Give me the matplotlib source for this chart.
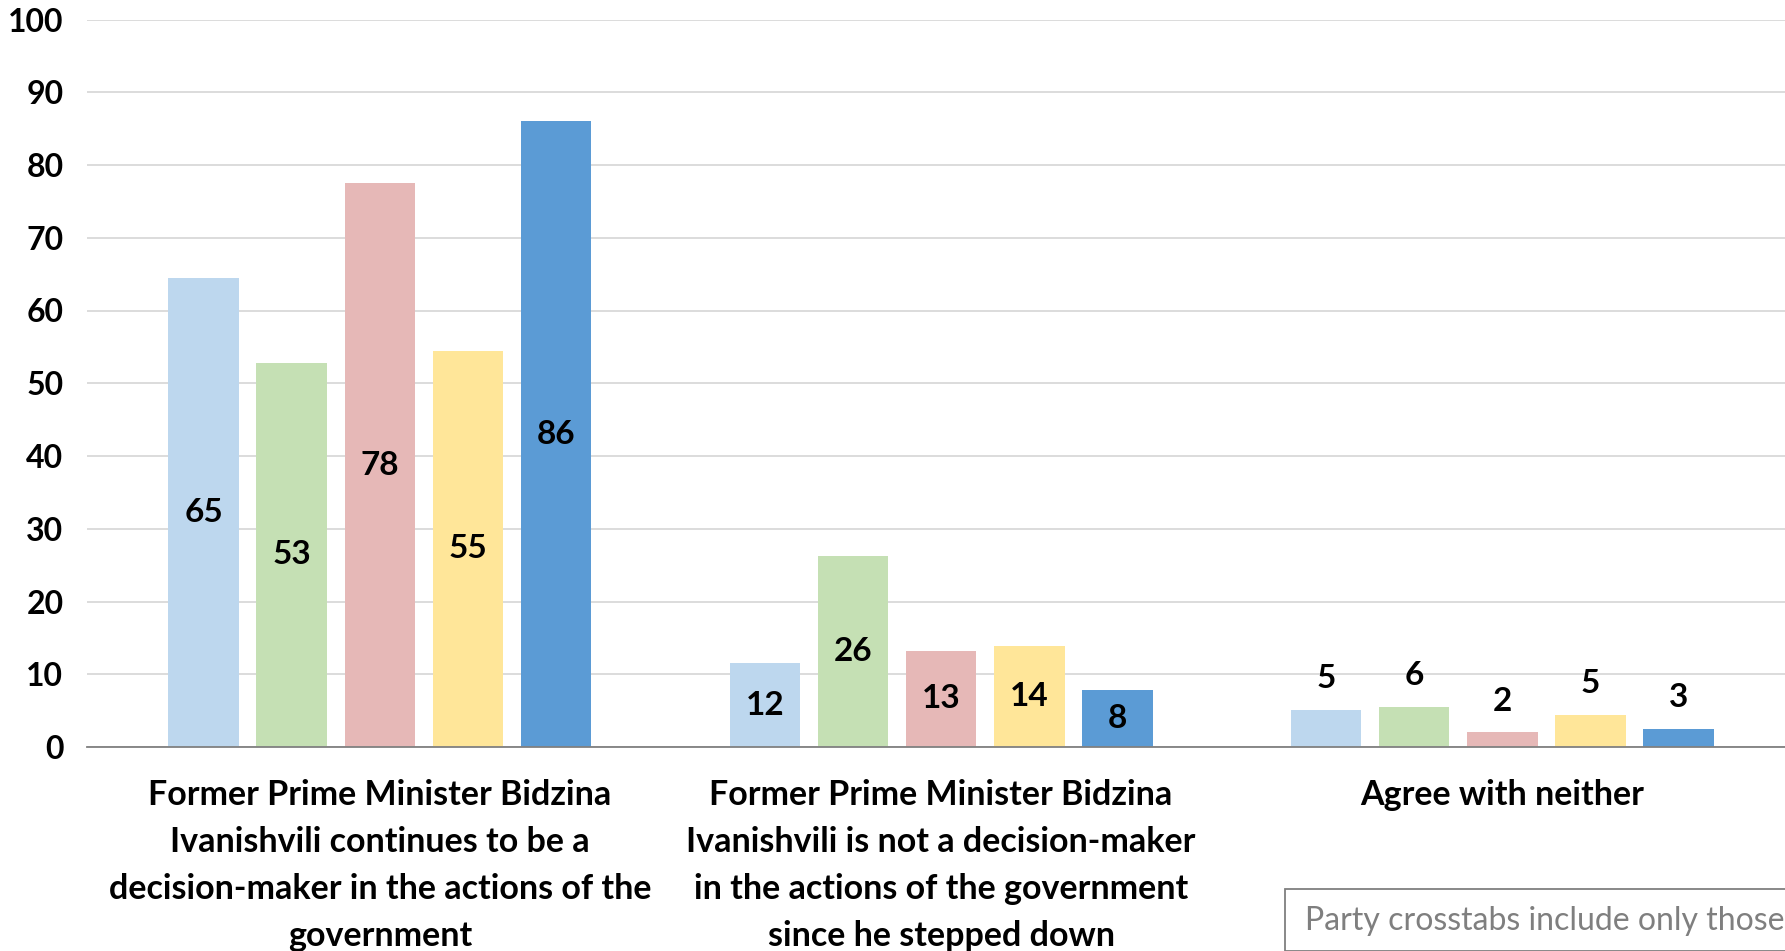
import numpy as np
import matplotlib.pyplot as plt
from matplotlib.patches import Rectangle

plt.rcParams['font.family'] = ['Lato', 'DejaVu Sans']

# categories and series
categories = [
    "Former Prime Minister Bidzina\nIvanishvili continues to be a\ndecision-maker in the actions of the\ngovernment",
    "Former Prime Minister Bidzina\nIvanishvili is not a decision-maker\nin the actions of the government\nsince he stepped down",
    "Agree with neither",
]
colors = ['#BDD7EE', '#C5E0B4', '#E6B8B7', '#FFE699', '#5B9BD5']

# bar heights, one list per series
s1 = [64.5, 11.5, 5.1]
s2 = [52.8, 26.3, 5.5]
s3 = [77.5, 13.2, 2.0]
s4 = [54.5, 13.9, 4.4]
s5 = [86.0, 7.8, 2.5]
series = [s1, s2, s3, s4, s5]

# data labels as printed
lab1 = [65, 12, 5]
lab2 = [53, 26, 6]
lab3 = [78, 13, 2]
lab4 = [55, 14, 5]
lab5 = [86, 8, 3]
labels = [lab1, lab2, lab3, lab4, lab5]

yticks = [0, 10, 20, 30, 40, 50, 60, 70, 80, 90, 100]

W, H = 1785, 951
fig = plt.figure(figsize=(W / 100, H / 100), dpi=100)
ax = fig.add_axes([87 / W, (H - 747) / H, (W - 87) / W, (747 - 19.5) / H])

x = np.arange(len(categories))
pitch = 0.157
bw = 0.126
for i, (vals, labs, c) in enumerate(zip(series, labels, colors)):
    pos = x + (i - 2) * pitch
    ax.bar(pos, vals, width=bw, color=c, zorder=2)
    for j, (p, v, l) in enumerate(zip(pos, vals, labs)):
        if j < 2:
            ax.text(p, v / 2, str(l), ha='center', va='center',
                    fontsize=24, fontweight='bold', color='black', zorder=3)
        else:
            ax.text(p, v + 4.3, str(l), ha='center', va='center',
                    fontsize=24, fontweight='bold', color='black', zorder=3)

ax.set_xlim(-0.522, 2.504)
ax.set_ylim(0, 100)
ax.set_yticks(yticks)
ax.set_yticklabels([str(t) for t in yticks], fontsize=23, fontweight='bold')
ax.tick_params(axis='y', length=0, pad=17)
ax.set_xticks(x)
ax.set_xticklabels(categories, fontsize=24.5, fontweight='bold', linespacing=1.58)
ax.tick_params(axis='x', length=0, pad=23)
ax.grid(axis='y', color='#D9D9D9', linewidth=1.3, zorder=0)
ax.set_axisbelow(True)
for s in ['top', 'right', 'left']:
    ax.spines[s].set_visible(False)
ax.spines['bottom'].set_color('#808080')
ax.spines['bottom'].set_linewidth(1.3)

# note box, cut off by the figure edge
fig.patches.append(Rectangle((1285 / W, 0), 600 / W, (H - 889) / H,
                             transform=fig.transFigure, fill=False,
                             edgecolor='#7F7F7F', linewidth=1.3))
fig.text(1305 / W, (H - 921) / H, "Party crosstabs include only those",
         fontsize=23, color='#7F7F7F', va='center', ha='left')

fig.savefig('out.png', dpi=100)
